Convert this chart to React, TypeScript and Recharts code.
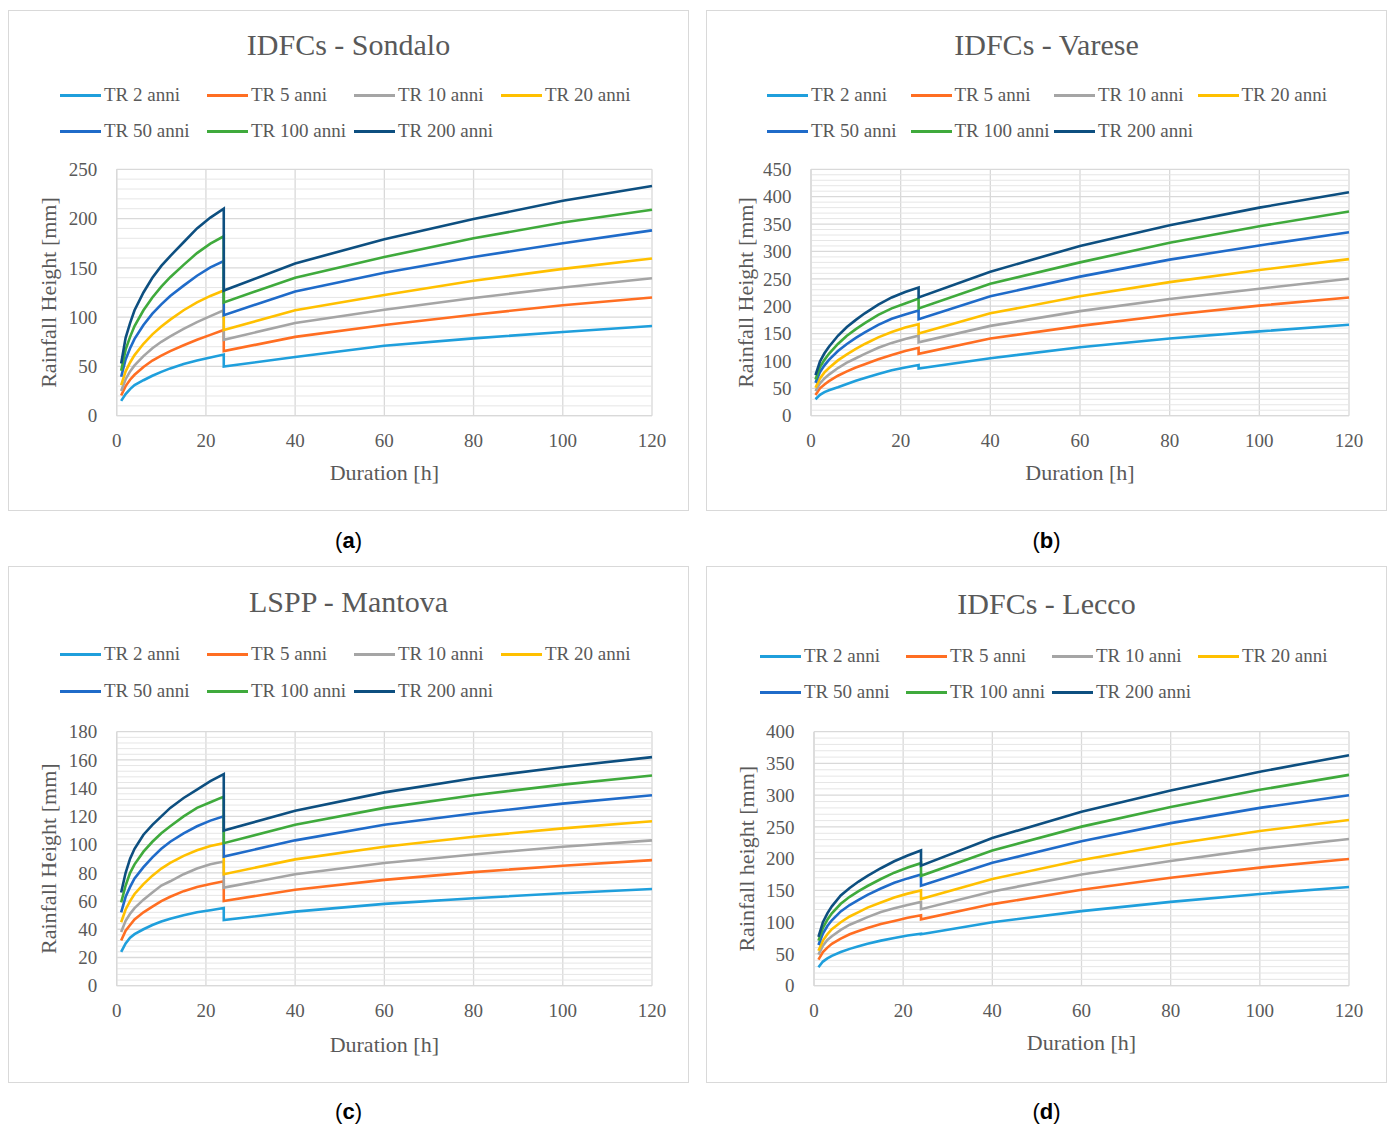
import React from "react";
import { LineChart, Line, XAxis, YAxis, CartesianGrid, Label, ReferenceLine } from "recharts";

// durations [h]; 24 appears twice because the curves jump at one day
const durations = [1, 2, 3, 4, 6, 8, 10, 12, 15, 18, 21, 24, 24, 40, 60, 80, 100, 120];
const xTicks = [0, 20, 40, 60, 80, 100, 120];

const seriesNames = ["TR 2 anni", "TR 5 anni", "TR 10 anni", "TR 20 anni", "TR 50 anni", "TR 100 anni", "TR 200 anni"];
const seriesColors = ["#1f9fdc", "#ff6e22", "#a5a5a5", "#ffc000", "#1f6bc9", "#3faa3c", "#0d4f80"];

// (a) Sondalo
const sondalo2 = [15, 22, 27, 31, 36, 40.5, 44.5, 48, 52.5, 56, 59, 62, 50, 59.5, 71, 78.5, 85, 91];
const sondalo5 = [20.5, 30, 36.5, 41.5, 49.5, 56, 61, 65.5, 71.5, 77, 82, 87, 65.5, 80, 92, 102.5, 112, 120];
const sondalo10 = [25, 37, 45, 51, 60.5, 68.5, 75, 80.5, 88, 95, 101, 107, 77, 94, 107.5, 119.5, 130, 139.5];
const sondalo20 = [31, 45, 54, 61.5, 73, 82.5, 90.5, 97.5, 107, 115, 121.5, 127, 87, 107, 122.5, 137, 149, 159.5];
const sondalo50 = [39.5, 57, 68.5, 78, 92, 103.5, 113, 121.5, 132, 142, 150.5, 157, 102, 126, 145, 161, 175, 188];
const sondalo100 = [45.5, 67, 80, 91, 107, 120, 131, 140.5, 153, 165, 174.5, 182, 115, 140, 161, 180, 196, 209];
const sondalo200 = [53, 79, 94, 107, 125, 140, 152, 162, 176, 190, 201, 210, 127, 154.5, 179, 199.5, 218, 233];
const sondaloTicks = [0, 50, 100, 150, 200, 250];

// (b) Varese
const varese2 = [30, 38, 43, 46.5, 52, 58, 64, 69, 76, 83, 88, 92.5, 86, 105, 125, 141, 154, 166];
const varese5 = [38, 50, 57, 63, 73, 81, 88, 94, 103, 111, 118, 124, 113, 141, 164, 184, 201, 216];
const varese10 = [45, 59, 68, 75, 87, 97, 105, 113, 124, 133, 140, 146, 134, 164, 191, 213, 232, 250];
const varese20 = [51, 68, 79, 87, 101, 112, 122, 131, 143, 153, 161, 167, 150, 187, 218, 244, 266, 286];
const varese50 = [60, 80, 92, 102, 118, 131, 142, 152, 166, 177, 185, 192, 176, 218, 254, 285, 311, 335];
const varese100 = [66, 89, 102, 113, 131, 146, 158, 169, 184, 196, 205, 214, 196, 241, 280, 316, 346, 373];
const varese200 = [74, 99, 114, 126, 146, 162, 175, 187, 203, 216, 226, 234, 216, 263, 310, 348, 380, 408];
const vareseTicks = [0, 50, 100, 150, 200, 250, 300, 350, 400, 450];

// (c) Mantova
const mantova2 = [24, 30, 34, 36.5, 40, 43, 45.5, 47.5, 50, 52, 53.5, 55, 46.5, 52.5, 58, 62, 65.5, 68.5];
const mantova5 = [32, 39, 43, 47, 52, 56, 60, 63, 67, 70, 72, 74, 60, 68, 75, 80.5, 85, 89];
const mantova10 = [38, 46, 51, 55, 61, 66, 71, 74, 79, 83, 86, 88, 69.5, 79, 87, 93, 98.5, 103];
const mantova20 = [45, 54, 60, 65, 72, 78, 83, 87, 92, 96, 99, 101, 79, 89.5, 98.5, 105.5, 111.5, 116.5];
const mantova50 = [52, 63, 70, 76, 84, 91, 97, 102, 108, 113, 117, 120, 91.5, 103, 114, 122, 129, 135];
const mantova100 = [59, 71, 80, 86, 95, 102, 108, 113, 120, 126, 130, 134, 101, 114, 126, 135, 142.5, 149];
const mantova200 = [66, 80, 90, 97, 107, 114, 120, 126, 133, 139, 145, 150, 110, 124, 137, 147, 155, 162];
const mantovaTicks = [0, 20, 40, 60, 80, 100, 120, 140, 160, 180];

// (d) Lecco
const lecco2 = [29, 38, 43, 47, 53, 58, 62, 66, 71, 75, 79, 82, 81, 100, 117.5, 132, 144.5, 155.5];
const lecco5 = [41, 53, 60, 66, 74, 81, 86, 91, 97, 102, 107, 111, 104.5, 128.5, 151, 170, 186, 199.5];
const lecco10 = [49, 63, 72, 78, 88, 96, 102, 108, 116, 122, 127, 132, 120.5, 148.5, 175, 196.5, 215.5, 231];
const lecco20 = [55, 71, 81, 89, 100, 109, 116, 123, 131, 139, 145, 150, 136.5, 168, 198, 222.5, 243.5, 261];
const lecco50 = [64, 82, 94, 103, 117, 127, 135, 143, 153, 162, 169, 175, 157.5, 193.5, 227.5, 256, 280, 300];
const lecco100 = [71, 91, 104, 114, 129, 140, 149, 157, 168, 178, 186, 193, 173, 213, 250.5, 281.5, 308.5, 332];
const lecco200 = [77, 100, 114, 125, 142, 154, 164, 173, 185, 196, 205, 213, 189, 232.5, 274, 307.5, 337, 363];
const leccoTicks = [0, 50, 100, 150, 200, 250, 300, 350, 400];

const SERIF = "'Liberation Serif', 'DejaVu Serif', serif";
const TEXT = "#595959";

const buildRows = (cols: number[][]) =>
  durations.map((d, i) => {
    const row: Record<string, number> = { d };
    cols.forEach((c, k) => (row["s" + k] = c[i]));
    return row;
  });

// minor gridline values between the major ticks
const minorValues = (ticks: number[], step: number) => {
  const out: number[] = [];
  const max = ticks[ticks.length - 1];
  for (let v = step; v < max - 1e-9; v += step) {
    if (!ticks.some((t) => Math.abs(t - v) < 1e-9)) out.push(Math.round(v * 1000) / 1000);
  }
  return out;
};

type PanelCfg = {
  tag: string;
  title: string;
  yLabel: string;
  ticks: number[];
  minorStep: number;
  series: number[][];
  box: { left: number; top: number; width: number; height: number };
  titleY: number;
  legendX: number;
  legendY: number[];
  legendCol: number;
  chartTop: number;
  plot: { left: number; right: number; top: number; bottom: number };
  yLabelX: number;
  xLabelY: number;
  tagY: number;
};

const panels: PanelCfg[] = [
  {
    tag: "a", title: "IDFCs - Sondalo", yLabel: "Rainfall Height [mm]", ticks: sondaloTicks, minorStep: 10,
    series: [sondalo2, sondalo5, sondalo10, sondalo20, sondalo50, sondalo100, sondalo200],
    box: { left: 8, top: 10, width: 681, height: 501 }, titleY: 45,
    legendX: 60, legendY: [95, 131], legendCol: 147, chartTop: 150,
    plot: { left: 116.7, right: 652, top: 169.3, bottom: 415.7 }, yLabelX: 48, xLabelY: 473, tagY: 541,
  },
  {
    tag: "b", title: "IDFCs - Varese", yLabel: "Rainfall Height [mm]", ticks: vareseTicks, minorStep: 10,
    series: [varese2, varese5, varese10, varese20, varese50, varese100, varese200],
    box: { left: 706, top: 10, width: 681, height: 501 }, titleY: 45,
    legendX: 767, legendY: [95, 131], legendCol: 143.5, chartTop: 150,
    plot: { left: 811, right: 1349, top: 169.3, bottom: 415.7 }, yLabelX: 745, xLabelY: 473, tagY: 541,
  },
  {
    tag: "c", title: "LSPP - Mantova", yLabel: "Rainfall Height [mm]", ticks: mantovaTicks, minorStep: 4,
    series: [mantova2, mantova5, mantova10, mantova20, mantova50, mantova100, mantova200],
    box: { left: 8, top: 566, width: 681, height: 517 }, titleY: 602,
    legendX: 60, legendY: [654, 691], legendCol: 147, chartTop: 712,
    plot: { left: 116.7, right: 652, top: 731.7, bottom: 985.7 }, yLabelX: 48, xLabelY: 1045, tagY: 1112,
  },
  {
    tag: "d", title: "IDFCs - Lecco", yLabel: "Rainfall height [mm]", ticks: leccoTicks, minorStep: 10,
    series: [lecco2, lecco5, lecco10, lecco20, lecco50, lecco100, lecco200],
    box: { left: 706, top: 566, width: 681, height: 517 }, titleY: 604,
    legendX: 760, legendY: [656, 692], legendCol: 146, chartTop: 712,
    plot: { left: 814, right: 1349, top: 731.7, bottom: 985.7 }, yLabelX: 746, xLabelY: 1043, tagY: 1112,
  },
];

const CHART_H = 350;
const X_AXIS_H = 30;

const Panel: React.FC<{ p: PanelCfg }> = ({ p }) => {
  const rows = buildRows(p.series);
  const yMax = p.ticks[p.ticks.length - 1];
  const leftPad = 20;
  const yAxisW = p.plot.left - p.box.left - leftPad;
  const margin = {
    top: p.plot.top - p.chartTop,
    right: p.box.left + p.box.width - p.plot.right,
    left: leftPad,
    bottom: p.chartTop + CHART_H - p.plot.bottom - X_AXIS_H,
  };
  // label text top sits about 8px above its visual middle
  const xLabelOffset = p.xLabelY - p.plot.bottom - X_AXIS_H - 8.4;
  const tickStyle = { fill: TEXT, fontSize: 19, fontFamily: SERIF };

  return (
    <>
      <div
        style={{
          position: "absolute", left: p.box.left, top: p.box.top,
          width: p.box.width - 2, height: p.box.height - 2,
          border: "1px solid #d9d9d9", background: "#fff",
        }}
      />
      <div
        style={{
          position: "absolute", left: p.box.left, width: p.box.width, top: p.titleY - 18,
          textAlign: "center", fontFamily: SERIF, fontSize: 30, lineHeight: "36px", color: TEXT,
        }}
      >
        {p.title}
      </div>
      {seriesNames.map((name, i) => {
        const row = i < 4 ? 0 : 1;
        const col = i < 4 ? i : i - 4;
        return (
          <div
            key={name}
            style={{
              position: "absolute", left: p.legendX + col * p.legendCol, top: p.legendY[row] - 12,
              height: 24, display: "flex", alignItems: "center", whiteSpace: "nowrap",
            }}
          >
            <span style={{ display: "inline-block", width: 41, height: 3, background: seriesColors[i], marginRight: 3 }} />
            <span style={{ fontFamily: SERIF, fontSize: 19, color: TEXT, lineHeight: "24px" }}>{name}</span>
          </div>
        );
      })}
      <div style={{ position: "absolute", left: p.box.left, top: p.chartTop }}>
        <LineChart width={p.box.width} height={CHART_H} data={rows} margin={margin}>
          <CartesianGrid stroke="#d9d9d9" strokeWidth={1.3} />
          {minorValues(p.ticks, p.minorStep).map((v) => (
            <ReferenceLine key={v} y={v} stroke="#e6e6e6" strokeWidth={1} />
          ))}
          <XAxis
            dataKey="d" type="number" domain={[0, 120]} ticks={xTicks} interval={0}
            height={X_AXIS_H} tickSize={0} tickMargin={18} tick={tickStyle}
            axisLine={{ stroke: "#d9d9d9", strokeWidth: 1.3 }} tickLine={false}
          >
            <Label
              value="Duration [h]" position="bottom" offset={xLabelOffset}
              style={{ fill: TEXT, fontSize: 22, fontFamily: SERIF }}
            />
          </XAxis>
          <YAxis
            type="number" domain={[0, yMax]} ticks={p.ticks} interval={0} width={yAxisW}
            tickSize={0} tickMargin={19.5} tick={tickStyle}
            axisLine={{ stroke: "#d9d9d9", strokeWidth: 1.3 }} tickLine={false}
          >
            <Label
              value={p.yLabel} angle={-90} position="insideLeft"
              offset={p.yLabelX - p.box.left - leftPad}
              style={{ fill: TEXT, fontSize: 22, fontFamily: SERIF, textAnchor: "middle" }}
            />
          </YAxis>
          {seriesNames.map((name, i) => (
            <Line
              key={name} name={name} dataKey={"s" + i} type="linear"
              stroke={seriesColors[i]} strokeWidth={2.6} dot={false} activeDot={false}
              isAnimationActive={false}
            />
          ))}
        </LineChart>
      </div>
      <div
        style={{
          position: "absolute", left: p.box.left, width: p.box.width, top: p.tagY - 14,
          textAlign: "center", fontFamily: "'Liberation Sans', Arial, sans-serif", fontSize: 22,
          lineHeight: "28px", color: "#000",
        }}
      >
        (<b>{p.tag}</b>)
      </div>
    </>
  );
};

export default function App() {
  return (
    <div style={{ position: "absolute", left: 0, top: 0, width: 1390, height: 1128, background: "#fff" }}>
      {panels.map((p) => (
        <Panel key={p.tag} p={p} />
      ))}
    </div>
  );
}
